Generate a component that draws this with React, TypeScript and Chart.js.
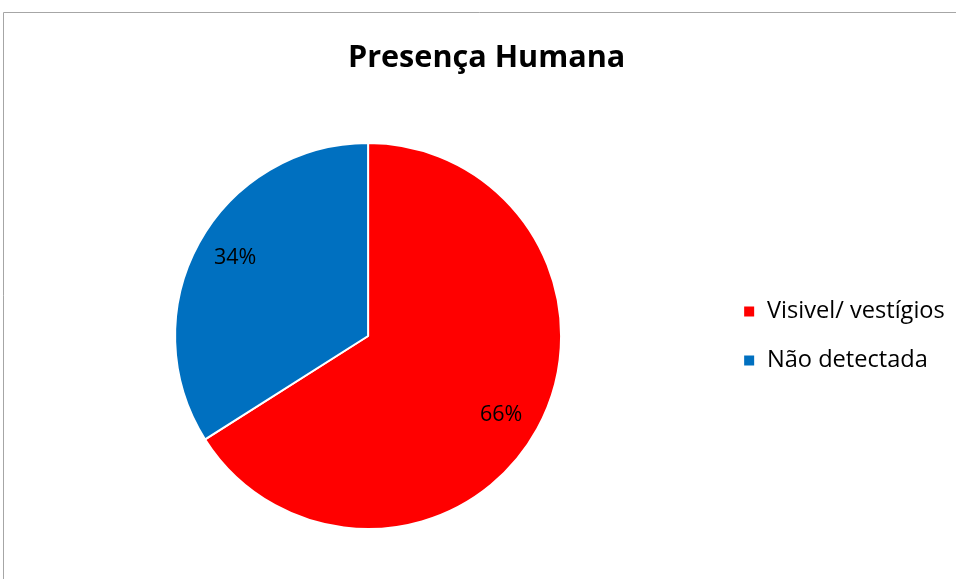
import React, { useEffect, useRef } from "react";
import { Chart, registerables } from "chart.js";

Chart.register(...registerables);

const categories = ["Visivel/ vestígios", "Não detectada"];
const values = [66, 34];
const colors = ["#FF0000", "#0070C0"];
const titleText = "Presença Humana";

const FONT = "'Open Sans'";

const frame = {
  id: "frame",
  beforeDraw(chart: any) {
    const ctx = chart.ctx;
    ctx.save();
    ctx.fillStyle = "#ffffff";
    ctx.fillRect(0, 0, chart.width, chart.height);
    ctx.strokeStyle = "#a6a6a6";
    ctx.lineWidth = 1;
    ctx.beginPath();
    ctx.moveTo(3.5, chart.height);
    ctx.lineTo(3.5, 12.5);
    ctx.lineTo(chart.width, 12.5);
    ctx.stroke();
    ctx.restore();
  },
};

const pctLabels = {
  id: "pctLabels",
  afterDatasetsDraw(chart: any) {
    const ctx = chart.ctx;
    const meta = chart.getDatasetMeta(0);
    const data = chart.data.datasets[0].data as number[];
    const total = data.reduce((a, b) => a + b, 0);
    ctx.save();
    ctx.font = `21.5px ${FONT}`;
    ctx.fillStyle = "#000000";
    ctx.textAlign = "center";
    ctx.textBaseline = "middle";
    meta.data.forEach((arc: any, i: number) => {
      const p = arc.getProps(["x", "y", "startAngle", "endAngle", "outerRadius"], true);
      const mid = (p.startAngle + p.endAngle) / 2 + 0.03;
      const r = p.outerRadius * 0.8;
      const x = p.x + Math.cos(mid) * r;
      const y = p.y + Math.sin(mid) * r;
      ctx.fillText(Math.round((data[i] / total) * 100) + "%", x, y);
    });
    ctx.restore();
  },
};

export default function App() {
  const ref = useRef<HTMLCanvasElement>(null);
  useEffect(() => {
    if (!ref.current) return;
    const chart = new Chart(ref.current, {
      type: "pie",
      data: {
        labels: categories,
        datasets: [
          {
            data: values,
            backgroundColor: colors,
            borderColor: "#ffffff",
            borderWidth: 2,
          },
        ],
      },
      options: {
        animation: false,
        responsive: false,
        layout: { padding: { left: 18.4, right: 1.2, top: 0, bottom: 49 } },
        plugins: {
          tooltip: { enabled: false },
          title: {
            display: true,
            text: titleText,
            color: "#000000",
            font: { family: FONT, size: 30.6, weight: "bold" },
            padding: { top: 40, bottom: 65.28 },
          },
          legend: {
            position: "right",
            fullSize: false,
            labels: {
              color: "#000000",
              font: { family: FONT, size: 23.6 },
              boxWidth: 12,
              boxHeight: 12,
              padding: 25.4,
            },
          },
        },
      },
      plugins: [frame, pctLabels],
    });
    return () => chart.destroy();
  }, []);
  return (
    <div style={{ position: "absolute", left: 0, top: 0, width: 956, height: 579 }}>
      <canvas ref={ref} width={956} height={579} style={{ display: "block" }} />
    </div>
  );
}
